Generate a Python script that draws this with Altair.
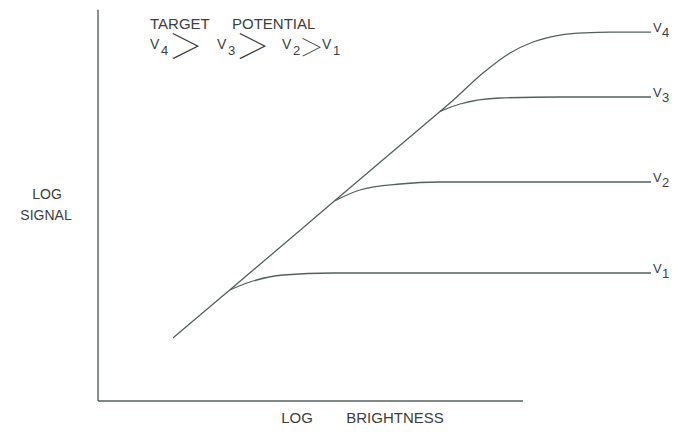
import altair as alt
import pandas as pd

# ---- data (x = log brightness, y = log signal, arbitrary units) ----
v4_x = [1.5, 2.64, 4.74, 6.84, 7.04, 7.7, 8.24, 8.7, 9.3, 9.74, 10.24, 11.06]
v4_y = [1.575, 2.78, 5.01, 7.24, 7.45, 8.2, 8.7, 8.975, 9.16, 9.205, 9.22, 9.22]
v3_x = [6.84, 7.24, 8.04, 9.24, 11.06]
v3_y = [7.24, 7.425, 7.575, 7.6, 7.6]
v2_x = [4.74, 5.24, 6.04, 6.84, 11.06]
v2_y = [5.01, 5.275, 5.425, 5.475, 5.475]
v1_x = [2.64, 3.04, 3.7, 4.7, 11.06]
v1_y = [2.78, 2.975, 3.15, 3.2, 3.2]

series_names = ["V4", "V3", "V2", "V1"]
series_x = [v4_x, v3_x, v2_x, v1_x]
series_y = [v4_y, v3_y, v2_y, v1_y]

# end labels (V + subscript digit)
end_digits = ["4", "3", "2", "1"]
end_level = [9.22, 7.6, 5.475, 3.2]
end_label_x = 11.1

# legend line: "V4 > V3 > V2 > V1"
legend_v_x = [1.04, 2.38, 3.68, 4.48]
legend_digits = ["4", "3", "2", "1"]
legend_gt_x = [1.75, 3.09]
legend_gt_small_x = [4.27]
legend_y = 8.88

X_DOMAIN = [0, 11.46]
Y_DOMAIN = [0, 9.8]
LINE = "#53605b"
TEXT = "#3b403e"
FONT = "Liberation Sans"
GT_FONT = "Noto Sans CJK JP"

rows = []
for name, xs_, ys_ in zip(series_names, series_x, series_y):
    for i, (a, b) in enumerate(zip(xs_, ys_)):
        rows.append({"series": name, "order": i, "x": a, "y": b})
curves = pd.DataFrame(rows)

xs = alt.Scale(domain=X_DOMAIN, nice=False, zero=False)
ys = alt.Scale(domain=Y_DOMAIN, nice=False, zero=False)
X = lambda f: alt.X(f, scale=xs, axis=None)
Y = lambda f: alt.Y(f, scale=ys, axis=None)

lines = alt.Chart(curves).mark_line(
    color=LINE, strokeWidth=1.3, interpolate="monotone"
).encode(x=X("x:Q"), y=Y("y:Q"), detail="series:N", order="order:Q")

# axes drawn as rules
y_axis = alt.Chart(pd.DataFrame({"x": [0.0], "y": [0.0], "y2": [9.78]})).mark_rule(
    color=LINE, strokeWidth=1.4
).encode(x=X("x:Q"), y=Y("y:Q"), y2="y2:Q")
x_axis = alt.Chart(pd.DataFrame({"x": [0.0], "x2": [8.5], "y": [0.0]})).mark_rule(
    color=LINE, strokeWidth=1.4
).encode(x=X("x:Q"), x2="x2:Q", y=Y("y:Q"))


def text_layer(df, size, align="left", dx=0, dy=0, weight="normal", font=FONT,
               baseline="middle"):
    return alt.Chart(df).mark_text(
        font=font, fontSize=size, color=TEXT, align=align, baseline=baseline,
        dx=dx, dy=dy, fontWeight=weight,
    ).encode(x=X("x:Q"), y=Y("y:Q"), text="t:N")


# end labels
end_v = pd.DataFrame({"x": [end_label_x] * 4, "y": end_level, "t": ["V"] * 4})
end_d = pd.DataFrame({"x": [end_label_x] * 4, "y": end_level, "t": end_digits})
end_v_layer = text_layer(end_v, 13, dy=-4)
end_d_layer = text_layer(end_d, 13, dx=9, dy=1)

# title block
title_df = pd.DataFrame({"x": [1.04, 2.68], "y": [9.43, 9.43], "t": ["TARGET", "POTENTIAL"]})
title_layer = text_layer(title_df, 15)
leg_v = pd.DataFrame({"x": legend_v_x, "y": [legend_y] * 4, "t": ["V"] * 4})
leg_d = pd.DataFrame({"x": legend_v_x, "y": [legend_y] * 4, "t": legend_digits})
leg_v_layer = text_layer(leg_v, 14, dy=-1)
leg_d_layer = text_layer(leg_d, 13, dx=11, dy=5)
gt_big = pd.DataFrame({"x": legend_gt_x, "y": [legend_y] * 2, "t": ["＞"] * 2})
gt_small = pd.DataFrame({"x": legend_gt_small_x, "y": [legend_y], "t": ["＞"]})
gt_big_layer = text_layer(gt_big, 34, align="center", weight=100, font=GT_FONT, dy=3)
gt_small_layer = text_layer(gt_small, 24, align="center", weight=100, font=GT_FONT, dy=3)

# axis titles
ytitle = pd.DataFrame({"x": [-1.02, -1.04], "y": [5.15, 4.625], "t": ["LOG", "SIGNAL"]})
ytitle_layer = text_layer(ytitle, 14, align="center")
xtitle = pd.DataFrame({"x": [3.98, 5.94], "y": [-0.56, -0.56], "t": ["LOG", "BRIGHTNESS"]})
xtitle_layer = text_layer(xtitle, 15, align="center", baseline="alphabetic")

chart = alt.layer(
    y_axis, x_axis, lines, end_v_layer, end_d_layer, title_layer,
    leg_v_layer, leg_d_layer, gt_big_layer, gt_small_layer, ytitle_layer, xtitle_layer,
).properties(
    width=573, height=392,
    autosize=alt.AutoSizeParams(type="none"),
    padding={"left": 90, "top": 1, "right": 0, "bottom": 26},
).configure_view(stroke=None)

chart.save("out.html", embed_options={"renderer": "svg", "actions": False})
